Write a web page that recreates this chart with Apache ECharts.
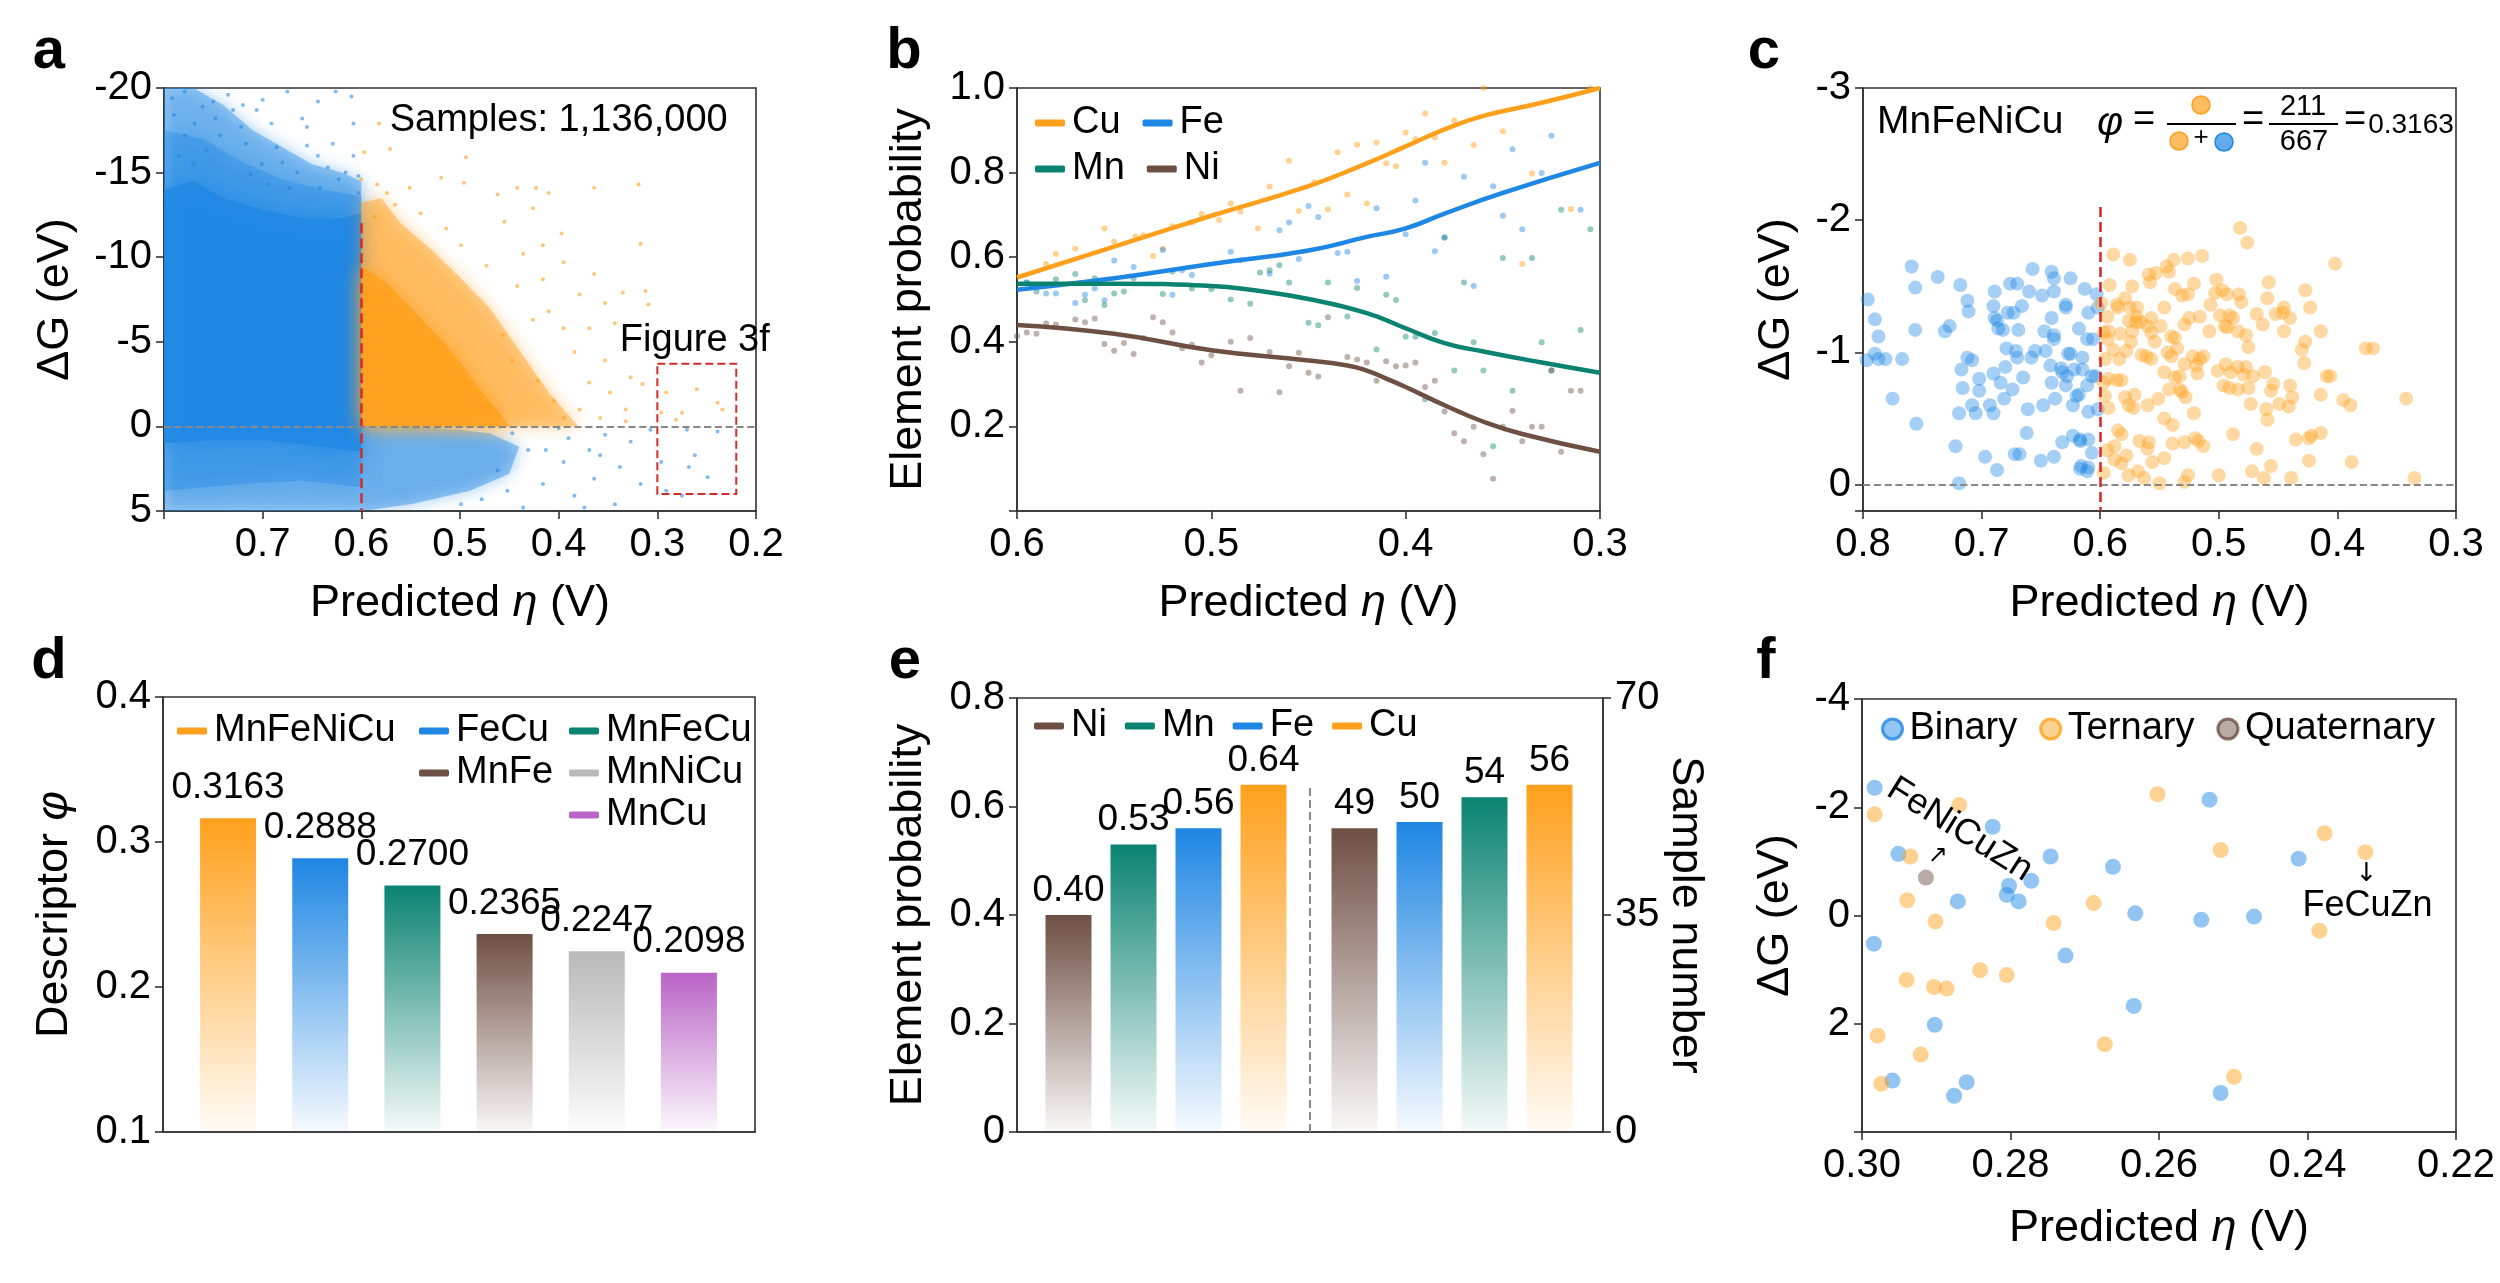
<!DOCTYPE html>
<html>
<head>
<meta charset="utf-8">
<script src="https://cdn.jsdelivr.net/npm/echarts@6/dist/echarts.min.js"></script>
<style>
html, body { margin: 0; padding: 0; background: #fff; }
#chart { width: 2500px; height: 1283px; }
</style>
</head>
<body>
<div id="chart"></div>
<script>
// ---------- data ----------

// a: dense clouds (envelopes) and the sparse points around them
const aBlueHalo = [[0.8,-20],[0.77,-20],[0.74,-19],[0.71,-17.5],[0.68,-16.5],[0.65,-15.5],[0.62,-15],[0.6,-14.5],[0.6,5],[0.8,5]];
const aBlueMid = [[0.8,-17.5],[0.76,-17],[0.72,-15.6],[0.68,-14.6],[0.64,-14],[0.6,-13.6],[0.6,3.6],[0.66,3.2],[0.72,3.4],[0.8,3.8]];
const aBlueCore = [[0.8,-14],[0.77,-14.5],[0.74,-13.5],[0.7,-12.8],[0.66,-12.3],[0.62,-12.3],[0.6,-12.6],[0.6,1.5],[0.64,1.2],[0.7,0.8],[0.75,0.8],[0.8,1.0]];
const aBlueRight = [[0.6,0],[0.55,0],[0.5,0.2],[0.47,0.4],[0.44,1.2],[0.45,2.8],[0.49,3.8],[0.55,4.6],[0.6,5]];
const aOrangeHalo = [[0.6,-13.2],[0.58,-13.5],[0.56,-12],[0.53,-10.5],[0.5,-8.8],[0.47,-7],[0.44,-4.5],[0.41,-2],[0.38,0],[0.6,0]];
const aOrangeCore = [[0.6,-9.5],[0.575,-8.5],[0.55,-7],[0.52,-5.2],[0.5,-3.8],[0.48,-2.2],[0.46,-0.8],[0.45,0],[0.6,0]];
const aBlueTop = [[0.792,-19.4],[0.779,-19.8],[0.761,-18.9],[0.748,-18.2],[0.735,-19.6],[0.722,-17.7],[0.706,-18.7],[0.691,-17.9],[0.675,-19.8],[0.66,-18.2],[0.644,-19.2],[0.626,-19.8],[0.61,-19.5],[0.608,-17.9],[0.629,-16.7],[0.644,-16.0],[0.655,-16.6],[0.665,-15.0],[0.608,-16.0],[0.603,-14.8],[0.623,-14.6],[0.634,-15.3],[0.686,-16.5],[0.701,-15.5],[0.717,-16.7],[0.73,-18.7],[0.769,-17.9],[0.79,-18.4],[0.779,-17.2],[0.743,-17.2],[0.655,-17.7],[0.616,-15.0],[0.642,-14.1],[0.603,-13.8],[0.673,-14.1],[0.785,-16.0],[0.77,-15.5],[0.757,-16.3],[0.712,-14.9],[0.695,-14.3],[0.68,-15.6],[0.75,-19.2],[0.7,-19.3],[0.72,-19.0]];
const aBlueLow = [[0.447,0.4],[0.431,1.4],[0.416,3.4],[0.4,0.1],[0.395,2.1],[0.384,4.1],[0.369,1.4],[0.364,3.1],[0.353,0.5],[0.343,4.6],[0.338,2.4],[0.327,0.9],[0.317,3.4],[0.307,0.2],[0.296,2.1],[0.291,3.8],[0.27,0.2],[0.262,1.7],[0.268,2.4],[0.249,3.0],[0.239,0.3],[0.275,4.1],[0.462,2.6],[0.452,3.8],[0.436,4.8],[0.413,1.4],[0.374,4.8],[0.358,1.7],[0.478,4.3],[0.499,4.6],[0.39,0.7]];
const aOrange = [[0.582,-17.9],[0.597,-16.2],[0.571,-16.4],[0.6,-14.6],[0.584,-14.3],[0.551,-14.1],[0.519,-14.7],[0.496,-14.4],[0.494,-15.9],[0.462,-13.7],[0.442,-14.1],[0.423,-14.1],[0.41,-13.8],[0.364,-14.1],[0.319,-14.3],[0.317,-10.8],[0.397,-11.4],[0.426,-12.9],[0.455,-12.1],[0.436,-10.2],[0.416,-10.7],[0.395,-9.7],[0.379,-7.8],[0.364,-9.0],[0.353,-7.3],[0.335,-7.9],[0.312,-8.0],[0.309,-7.2],[0.343,-6.1],[0.369,-5.8],[0.395,-5.8],[0.41,-6.8],[0.426,-6.3],[0.442,-8.3],[0.384,-4.4],[0.353,-3.9],[0.327,-2.9],[0.315,-2.5],[0.291,-2.0],[0.26,-2.2],[0.239,-1.4],[0.234,-1.0],[0.281,-0.4],[0.296,-0.8],[0.348,-2.0],[0.369,-2.6],[0.379,-1.0],[0.358,-0.5],[0.332,-1.0],[0.395,-0.5],[0.405,-1.5],[0.421,-2.7],[0.447,-3.9],[0.457,-5.4],[0.473,-9.5],[0.499,-10.7],[0.514,-11.7],[0.54,-12.6],[0.566,-13.1],[0.587,-12.4],[0.574,-13.8],[0.416,-8.7],[0.332,-0.3],[0.275,-0.8]];
const aSplit = [[0.6,-12],[0.6,5]];
const aBox = [[0.3,-3.7],[0.22,4.0]];

// b: smoothed trends and the binned points
const bCuLine = [[0.6,0.552],[0.55,0.625],[0.5,0.698],[0.45,0.768],[0.42,0.822],[0.4,0.862],[0.38,0.902],[0.36,0.934],[0.33,0.965],[0.3,1.0]];
const bFeLine = [[0.6,0.523],[0.55,0.55],[0.5,0.584],[0.45,0.616],[0.42,0.648],[0.4,0.668],[0.38,0.703],[0.35,0.752],[0.3,0.823]];
const bMnLine = [[0.6,0.537],[0.55,0.537],[0.5,0.532],[0.48,0.523],[0.45,0.501],[0.42,0.468],[0.4,0.432],[0.38,0.397],[0.36,0.377],[0.33,0.351],[0.3,0.327]];
const bNiLine = [[0.6,0.44],[0.55,0.419],[0.5,0.38],[0.45,0.356],[0.43,0.344],[0.42,0.332],[0.41,0.313],[0.4,0.293],[0.38,0.25],[0.36,0.211],[0.34,0.182],[0.3,0.14]];
const bCuDots = [[0.585,0.584],[0.58,0.608],[0.57,0.62],[0.555,0.668],[0.55,0.637],[0.539,0.649],[0.535,0.652],[0.53,0.603],[0.525,0.62],[0.52,0.673],[0.51,0.682],[0.505,0.702],[0.496,0.688],[0.49,0.727],[0.485,0.708],[0.476,0.668],[0.47,0.767],[0.46,0.828],[0.455,0.709],[0.447,0.777],[0.44,0.713],[0.435,0.848],[0.43,0.748],[0.425,0.866],[0.42,0.727],[0.415,0.871],[0.41,0.822],[0.405,0.815],[0.4,0.895],[0.395,0.879],[0.39,0.94],[0.385,0.883],[0.38,0.823],[0.375,0.924],[0.365,0.865],[0.36,1.0],[0.35,0.898],[0.34,0.584],[0.335,0.798],[0.315,0.714],[0.305,1.0]];
const bFeDots = [[0.595,0.54],[0.585,0.514],[0.58,0.514],[0.57,0.492],[0.565,0.511],[0.56,0.526],[0.555,0.498],[0.55,0.592],[0.54,0.577],[0.525,0.617],[0.52,0.511],[0.515,0.569],[0.51,0.558],[0.49,0.613],[0.485,0.593],[0.47,0.561],[0.465,0.664],[0.46,0.682],[0.455,0.596],[0.45,0.721],[0.445,0.695],[0.435,0.61],[0.43,0.613],[0.425,0.544],[0.415,0.716],[0.41,0.554],[0.4,0.654],[0.395,0.734],[0.39,0.823],[0.385,0.614],[0.38,0.647],[0.37,0.79],[0.365,0.532],[0.355,0.768],[0.35,0.698],[0.345,0.855],[0.34,0.666],[0.33,0.799],[0.325,0.887],[0.31,0.712]];
const bMnDots = [[0.595,0.54],[0.59,0.519],[0.58,0.548],[0.57,0.56],[0.565,0.498],[0.56,0.55],[0.555,0.487],[0.55,0.514],[0.545,0.519],[0.54,0.55],[0.525,0.513],[0.52,0.566],[0.51,0.526],[0.5,0.524],[0.49,0.5],[0.48,0.49],[0.475,0.564],[0.47,0.569],[0.465,0.581],[0.46,0.54],[0.45,0.445],[0.445,0.439],[0.44,0.54],[0.43,0.46],[0.425,0.527],[0.415,0.382],[0.41,0.511],[0.405,0.499],[0.4,0.412],[0.395,0.412],[0.39,0.264],[0.385,0.421],[0.38,0.646],[0.375,0.332],[0.37,0.54],[0.365,0.399],[0.36,0.332],[0.355,0.153],[0.35,0.598],[0.345,0.284],[0.335,0.598],[0.33,0.399],[0.325,0.332],[0.32,0.712],[0.31,0.428],[0.305,0.666]];
const bNiDots = [[0.6,0.414],[0.595,0.422],[0.59,0.419],[0.585,0.443],[0.58,0.441],[0.57,0.453],[0.565,0.446],[0.56,0.455],[0.555,0.395],[0.55,0.379],[0.545,0.397],[0.54,0.371],[0.535,0.409],[0.53,0.458],[0.525,0.446],[0.52,0.422],[0.515,0.385],[0.51,0.393],[0.505,0.351],[0.5,0.368],[0.49,0.4],[0.485,0.284],[0.48,0.409],[0.47,0.376],[0.465,0.281],[0.46,0.342],[0.455,0.374],[0.45,0.327],[0.445,0.318],[0.44,0.458],[0.43,0.364],[0.425,0.358],[0.42,0.351],[0.415,0.308],[0.41,0.354],[0.405,0.342],[0.4,0.344],[0.395,0.351],[0.39,0.293],[0.385,0.308],[0.38,0.235],[0.375,0.184],[0.37,0.165],[0.365,0.199],[0.36,0.134],[0.355,0.076],[0.35,0.199],[0.345,0.237],[0.34,0.165],[0.335,0.199],[0.33,0.199],[0.325,0.332],[0.32,0.14],[0.315,0.284],[0.31,0.284]];

// c: MnFeNiCu samples
const cBlue = [[0.796,-1.40],[0.790,-1.25],[0.787,-1.12],[0.790,-0.99],[0.787,-0.95],[0.781,-0.95],[0.797,-0.94],[0.767,-0.95],[0.775,-0.65],[0.759,-1.65],[0.756,-1.49],[0.756,-1.17],[0.755,-0.46],[0.737,-1.57],[0.731,-1.16],[0.727,-1.20],[0.718,-1.51],[0.712,-1.39],[0.711,-1.31],[0.712,-0.96],[0.708,-0.94],[0.717,-0.87],[0.716,-0.73],[0.702,-0.80],[0.702,-0.71],[0.708,-0.60],[0.719,-0.54],[0.705,-0.54],[0.697,-0.21],[0.719,-0.01],[0.722,-0.29],[0.687,-0.11],[0.689,-1.46],[0.690,-1.35],[0.689,-1.26],[0.682,-1.17],[0.687,-1.24],[0.686,-1.18],[0.676,-1.52],[0.670,-1.52],[0.678,-1.30],[0.673,-1.30],[0.666,-1.35],[0.669,-1.17],[0.679,-1.03],[0.671,-1.01],[0.670,-0.96],[0.680,-0.89],[0.690,-0.84],[0.684,-0.77],[0.681,-0.65],[0.674,-0.72],[0.693,-0.60],[0.690,-0.54],[0.665,-0.81],[0.662,-0.39],[0.668,-0.23],[0.672,-0.23],[0.650,-0.18],[0.639,-0.21],[0.632,-0.32],[0.657,-1.63],[0.660,-1.46],[0.649,-1.43],[0.641,-1.61],[0.639,-1.56],[0.639,-1.46],[0.625,-1.56],[0.613,-1.48],[0.603,-1.44],[0.602,-1.34],[0.610,-1.30],[0.629,-1.36],[0.629,-1.34],[0.641,-1.26],[0.639,-1.13],[0.647,-1.16],[0.639,-1.10],[0.618,-1.18],[0.606,-1.10],[0.611,-1.10],[0.655,-1.01],[0.646,-1.01],[0.627,-0.99],[0.625,-0.99],[0.615,-0.96],[0.658,-0.96],[0.642,-0.90],[0.633,-0.88],[0.632,-0.85],[0.628,-0.82],[0.622,-0.87],[0.615,-0.87],[0.604,-0.82],[0.607,-0.82],[0.641,-0.77],[0.629,-0.75],[0.611,-0.75],[0.648,-0.60],[0.638,-0.65],[0.623,-0.60],[0.620,-0.67],[0.618,-0.68],[0.610,-0.55],[0.623,-0.37],[0.617,-0.33],[0.617,-0.34],[0.610,-0.34],[0.607,-0.24],[0.616,-0.14],[0.610,-0.13],[0.611,-0.10],[0.602,-0.57],[0.661,-0.57],[0.617,-0.12]];
const cOrange = [[0.589,-1.74],[0.575,-1.70],[0.592,-1.51],[0.573,-1.50],[0.579,-1.41],[0.585,-1.34],[0.575,-1.34],[0.569,-1.34],[0.559,-1.59],[0.558,-1.53],[0.553,-1.60],[0.544,-1.65],[0.542,-1.61],[0.538,-1.70],[0.526,-1.71],[0.514,-1.73],[0.482,-1.94],[0.476,-1.83],[0.502,-1.55],[0.521,-1.52],[0.531,-1.43],[0.526,-1.44],[0.537,-1.48],[0.546,-1.34],[0.557,-1.26],[0.569,-1.27],[0.570,-1.23],[0.576,-1.24],[0.586,-1.36],[0.594,-1.27],[0.599,-1.37],[0.597,-1.15],[0.593,-1.16],[0.583,-1.14],[0.573,-1.16],[0.566,-1.23],[0.560,-1.20],[0.557,-1.15],[0.549,-1.20],[0.540,-1.12],[0.537,-1.11],[0.529,-1.21],[0.525,-1.26],[0.516,-1.27],[0.508,-1.16],[0.507,-1.36],[0.503,-1.45],[0.497,-1.47],[0.493,-1.44],[0.483,-1.44],[0.481,-1.38],[0.491,-1.28],[0.499,-1.28],[0.495,-1.20],[0.493,-1.19],[0.488,-1.26],[0.484,-1.16],[0.477,-1.13],[0.468,-1.29],[0.458,-1.53],[0.459,-1.41],[0.463,-1.21],[0.452,-1.29],[0.445,-1.34],[0.446,-1.30],[0.440,-1.26],[0.445,-1.16],[0.427,-1.47],[0.423,-1.34],[0.414,-1.16],[0.427,-1.08],[0.430,-1.02],[0.428,-0.92],[0.370,-1.03],[0.409,-0.82],[0.406,-0.82],[0.594,-1.10],[0.596,-0.95],[0.589,-1.02],[0.584,-0.95],[0.578,-1.01],[0.574,-1.08],[0.565,-0.98],[0.561,-0.97],[0.557,-0.95],[0.554,-1.08],[0.543,-1.00],[0.540,-0.97],[0.535,-1.03],[0.529,-0.91],[0.522,-0.97],[0.516,-0.95],[0.513,-0.97],[0.519,-0.90],[0.533,-0.82],[0.546,-0.85],[0.537,-0.81],[0.518,-0.84],[0.494,-0.91],[0.501,-0.86],[0.490,-0.85],[0.484,-0.89],[0.477,-0.89],[0.479,-0.83],[0.471,-0.82],[0.461,-0.85],[0.496,-0.75],[0.491,-0.73],[0.484,-0.72],[0.475,-0.73],[0.454,-0.76],[0.456,-0.71],[0.440,-0.75],[0.449,-0.61],[0.441,-0.59],[0.438,-0.66],[0.414,-0.68],[0.395,-0.64],[0.389,-0.60],[0.342,-0.65],[0.473,-0.61],[0.460,-0.57],[0.459,-0.49],[0.597,-0.77],[0.593,-0.80],[0.586,-0.79],[0.582,-0.79],[0.596,-0.67],[0.593,-0.58],[0.579,-0.66],[0.576,-0.60],[0.572,-0.58],[0.571,-0.68],[0.560,-0.60],[0.551,-0.65],[0.542,-0.72],[0.533,-0.72],[0.531,-0.70],[0.528,-0.66],[0.521,-0.54],[0.546,-0.50],[0.539,-0.45],[0.529,-0.32],[0.520,-0.35],[0.517,-0.33],[0.513,-0.29],[0.488,-0.38],[0.468,-0.27],[0.435,-0.34],[0.424,-0.35],[0.422,-0.37],[0.414,-0.39],[0.585,-0.41],[0.582,-0.38],[0.567,-0.33],[0.559,-0.32],[0.560,-0.27],[0.539,-0.31],[0.546,-0.20],[0.594,-0.26],[0.588,-0.29],[0.578,-0.22],[0.588,-0.19],[0.582,-0.16],[0.597,-0.09],[0.568,-0.10],[0.576,-0.07],[0.563,-0.05],[0.556,-0.17],[0.550,-0.01],[0.529,-0.02],[0.526,-0.07],[0.500,-0.07],[0.472,-0.10],[0.462,-0.05],[0.456,-0.14],[0.424,-0.18],[0.388,-0.17],[0.439,-0.05],[0.335,-0.05],[0.402,-1.67],[0.475,-1.04],[0.376,-1.03]];
const cSplit = [[0.6,-2.1],[0.6,0.2]];
const cCounts = { hit: 211, total: 667, phi: '0.3163' };

// d: descriptor per alloy family
const dNames = ['MnFeNiCu', 'FeCu', 'MnFeCu', 'MnFe', 'MnNiCu', 'MnCu'];
const dValues = [0.3163, 0.2888, 0.2700, 0.2365, 0.2247, 0.2098];

// e: element probability (left) and sample number (right)
const eProbCats = ['Ni', 'Mn', 'Fe', 'Cu'];
const eProb = [0.40, 0.53, 0.56, 0.64];
const eCountCats = ['Ni', 'Fe', 'Mn', 'Cu'];
const eCount = [49, 50, 54, 56];

// f: candidates in the Figure 3f window
const fBinary = [[0.2983,-2.36],[0.2951,-1.14],[0.2824,-1.64],[0.2746,-1.09],[0.2772,-0.64],[0.2802,-0.55],[0.2805,-0.38],[0.2789,-0.26],[0.2871,-0.26],[0.2662,-0.90],[0.2632,-0.04],[0.2984,0.52],[0.2726,0.74],[0.2543,0.08],[0.2472,0.02],[0.2412,-1.05],[0.2532,-2.14],[0.2634,1.67],[0.2902,2.02],[0.2959,3.05],[0.2859,3.08],[0.2876,3.33],[0.2517,3.28]];
const fTernary = [[0.2983,-1.87],[0.2869,-2.04],[0.2935,-1.09],[0.2602,-2.24],[0.2517,-1.21],[0.2377,-1.52],[0.2322,-1.17],[0.2939,-0.28],[0.2901,0.11],[0.2742,0.14],[0.2688,-0.23],[0.2384,0.28],[0.2841,1.01],[0.2805,1.10],[0.2940,1.19],[0.2903,1.32],[0.2886,1.35],[0.2979,2.22],[0.2921,2.57],[0.2673,2.38],[0.2974,3.11],[0.2499,2.98]];
const fQuaternary = [[0.2914,-0.70]];
const fFeNiCuZn = [0.2914, -0.70];
const fFeCuZn = [0.2322, -1.17];

// ---------- style ----------
const FONT = '"Liberation Sans", Arial, sans-serif';
const TICK = 40, NAME = 45, LEG = 38, LAB = 37;
const ORANGE = '#ffa01c', BLUE = '#1e86e3', GREEN = '#0a8370', BROWN = '#6e4f44', GREY = '#b9b9b9', PURPLE = '#b964c6';
const RED = '#d42a2a', AX = '#333';
const elColor = { Ni: BROWN, Mn: GREEN, Fe: BLUE, Cu: ORANGE };
const dColors = [ORANGE, BLUE, GREEN, BROWN, GREY, PURPLE];

function rgba(hex, a) {
  const n = parseInt(hex.slice(1), 16);
  return 'rgba(' + (n >> 16) + ',' + ((n >> 8) & 255) + ',' + (n & 255) + ',' + a + ')';
}
function fade(c) {
  return new echarts.graphic.LinearGradient(0, 0, 0, 1, [
    { offset: 0, color: c }, { offset: 1, color: rgba(c, 0.04) }
  ]);
}

const nameStyle = {
  color: '#000', fontSize: NAME, fontFamily: FONT,
  rich: { i: { fontStyle: 'italic', fontSize: NAME, fontFamily: FONT, color: '#000' } }
};
const lab = (extra) => Object.assign({ color: '#000', fontSize: TICK, fontFamily: FONT, margin: 12 }, extra);
function axis(o) {
  return Object.assign({
    type: 'value',
    splitLine: { show: false },
    axisLine: { show: true, onZero: false, lineStyle: { color: AX, width: 1.6 } },
    axisTick: { show: true, length: 8, lineStyle: { color: AX, width: 1.6 } },
    axisLabel: lab(),
    nameLocation: 'middle',
    nameTextStyle: nameStyle
  }, o);
}
const hidden = { show: false };
const fix1 = v => v.toFixed(1);

function grid(left, top, width, height, box) {
  return { left, top, width, height, show: !!box, borderColor: AX, borderWidth: 1.6, outerBoundsMode: 'none' };
}

function poly(xi, yi, pts, color, opacity, blur) {
  return {
    type: 'custom', xAxisIndex: xi, yAxisIndex: yi, silent: true, clip: true, z: 1,
    data: [pts[0]],
    renderItem: (params, api) => ({
      type: 'polygon',
      shape: { points: pts.map(p => api.coord(p)) },
      style: { fill: color, opacity, shadowBlur: blur || 16, shadowColor: color }
    })
  };
}
function dots(xi, yi, data, color, size, alpha, name) {
  return {
    type: 'scatter', name, xAxisIndex: xi, yAxisIndex: yi, data, symbolSize: size, z: 2,
    itemStyle: { color: rgba(color, alpha) }, silent: true
  };
}
function vline(seg, color, width) {
  return {
    silent: true, symbol: 'none', label: { show: false },
    lineStyle: { color, type: 'dashed', width },
    data: [[{ coord: seg[0] }, { coord: seg[1] }]]
  };
}
function trend(name, data, color) {
  return {
    type: 'line', name, xAxisIndex: 1, yAxisIndex: 1, data, smooth: 0.5, showSymbol: false, z: 3,
    lineStyle: { color, width: 4.5 }, itemStyle: { color }
  };
}

const legendBase = {
  selectedMode: false, icon: 'roundRect', itemWidth: 30, itemHeight: 7, itemGap: 22,
  textStyle: { fontSize: LEG, fontFamily: FONT, color: '#000', padding: [0, 0, 0, 2] }
};
const legText = (w) => Object.assign({}, legendBase.textStyle, { width: w });

const option = {
  animation: false,
  backgroundColor: '#fff',
  grid: [
    grid(164, 88, 592, 423, true),    // a
    grid(1017, 88, 583, 423, true),   // b
    grid(1863, 88, 593, 423, true),   // c
    grid(163, 697, 592, 435, true),   // d frame
    grid(182, 697, 553, 435, false),  // d bars
    grid(1017, 698, 586, 434, true),  // e frame
    grid(1036, 698, 260, 434, false), // e left bars
    grid(1322, 698, 260, 434, false), // e right bars
    grid(1862, 699, 594, 433, true)   // f
  ],
  xAxis: [
    axis({ gridIndex: 0, min: 0.2, max: 0.8, interval: 0.1, inverse: true, name: 'Predicted {i|η} (V)', nameGap: 70,
      axisLabel: lab({ margin: 14, formatter: v => (Math.abs(v - 0.8) < 1e-6 ? '' : fix1(v)) }) }),
    axis({ gridIndex: 1, min: 0.3, max: 0.6, interval: 0.1, inverse: true, name: 'Predicted {i|η} (V)', nameGap: 70,
      axisLabel: lab({ margin: 14, formatter: fix1 }) }),
    axis({ gridIndex: 2, min: 0.3, max: 0.8, interval: 0.1, inverse: true, name: 'Predicted {i|η} (V)', nameGap: 70,
      axisLabel: lab({ margin: 14, formatter: fix1 }) }),
    axis({ gridIndex: 3, min: 0, max: 1, axisTick: hidden, axisLabel: hidden }),
    { type: 'category', gridIndex: 4, data: dNames, show: false },
    axis({ gridIndex: 5, min: 0, max: 1, axisTick: hidden, axisLabel: hidden }),
    { type: 'category', gridIndex: 6, data: eProbCats, show: false },
    { type: 'category', gridIndex: 7, data: eCountCats, show: false },
    axis({ gridIndex: 8, min: 0.22, max: 0.30, interval: 0.02, inverse: true, name: 'Predicted {i|η} (V)', nameGap: 74,
      axisLabel: lab({ margin: 14, formatter: v => v.toFixed(2) }) })
  ],
  yAxis: [
    axis({ gridIndex: 0, min: -20, max: 5, interval: 5, inverse: true, name: 'ΔG (eV)', nameGap: 86 }),
    axis({ gridIndex: 1, min: 0, max: 1, interval: 0.2, name: 'Element probability', nameGap: 86,
      axisLabel: lab({ formatter: v => (v === 0 ? '' : fix1(v)) }) }),
    axis({ gridIndex: 2, min: -3, max: 0.2, interval: 1, inverse: true, name: 'ΔG (eV)', nameGap: 64,
      axisLabel: lab({ formatter: v => (Number.isInteger(v) ? String(v) : '') }) }),
    axis({ gridIndex: 3, min: 0.1, max: 0.4, interval: 0.1, name: 'Descriptor {i|φ}', nameGap: 86,
      axisLabel: lab({ formatter: fix1 }) }),
    { type: 'value', gridIndex: 4, min: 0.1, max: 0.4, startValue: 0.1, show: false, splitLine: hidden },
    axis({ gridIndex: 5, min: 0, max: 0.8, interval: 0.2, name: 'Element probability', nameGap: 86,
      axisLabel: lab({ formatter: v => (v === 0 ? '0' : fix1(v)) }) }),
    axis({ gridIndex: 5, position: 'right', min: 0, max: 70, interval: 35, name: 'Sample number', nameGap: 56, nameRotate: -90 }),
    { type: 'value', gridIndex: 6, min: 0, max: 0.8, show: false, splitLine: hidden },
    { type: 'value', gridIndex: 7, min: 0, max: 70, show: false, splitLine: hidden },
    axis({ gridIndex: 8, min: -4, max: 4, interval: 2, inverse: true, name: 'ΔG (eV)', nameGap: 64,
      axisLabel: lab({ formatter: v => (v === 4 ? '' : String(v)) }) })
  ],
  legend: [
    Object.assign({}, legendBase, { data: ['Cu', 'Fe'], left: 1030, top: 99, textStyle: legText(66) }),
    Object.assign({}, legendBase, { data: ['Mn', 'Ni'], left: 1030, top: 145, textStyle: legText(66) }),
    Object.assign({}, legendBase, { data: ['MnFeNiCu'], left: 172, top: 707 }),
    Object.assign({}, legendBase, { data: ['FeCu', 'MnFe'], left: 414, top: 707, orient: 'vertical', itemGap: 4 }),
    Object.assign({}, legendBase, { data: ['MnFeCu', 'MnNiCu', 'MnCu'], left: 564, top: 707, orient: 'vertical', itemGap: 4 }),
    Object.assign({}, legendBase, { data: ['Ni', 'Mn', 'Fe', 'Cu'], left: 1029, top: 702, itemGap: 18 }),
    Object.assign({}, legendBase, {
      left: 1876, top: 705, icon: 'circle', itemWidth: 20, itemHeight: 20, itemGap: 22,
      data: [
        { name: 'Binary', itemStyle: { borderColor: BLUE, borderWidth: 3 } },
        { name: 'Ternary', itemStyle: { borderColor: ORANGE, borderWidth: 3 } },
        { name: 'Quaternary', itemStyle: { borderColor: BROWN, borderWidth: 3 } }
      ]
    })
  ],
  series: [
    // a
    poly(0, 0, aBlueHalo, BLUE, 0.4),
    poly(0, 0, aBlueMid, BLUE, 0.35, 24),
    poly(0, 0, aBlueRight, BLUE, 0.42),
    poly(0, 0, aBlueCore, BLUE, 0.72, 22),
    poly(0, 0, aOrangeHalo, ORANGE, 0.45),
    poly(0, 0, aOrangeCore, ORANGE, 0.8, 20),
    dots(0, 0, aBlueTop, BLUE, 4, 0.7),
    dots(0, 0, aBlueLow, BLUE, 4, 0.7),
    Object.assign(dots(0, 0, aOrange, ORANGE, 4, 0.75), {
      markLine: vline(aSplit, RED, 2.5),
      markArea: {
        silent: true,
        itemStyle: { color: 'rgba(0,0,0,0)', borderColor: RED, borderWidth: 2, borderType: 'dashed' },
        data: [[{ coord: aBox[0] }, { coord: aBox[1] }]]
      }
    }),
    { type: 'line', xAxisIndex: 0, yAxisIndex: 0, data: [], z: 5,
      markLine: vline([[0.8, 0], [0.2, 0]], '#888', 1.8) },
    // b
    dots(1, 1, bCuDots, ORANGE, 6, 0.6),
    dots(1, 1, bFeDots, BLUE, 6, 0.55),
    dots(1, 1, bMnDots, GREEN, 6, 0.55),
    dots(1, 1, bNiDots, BROWN, 6, 0.55),
    trend('Cu', bCuLine, ORANGE),
    trend('Fe', bFeLine, BLUE),
    trend('Mn', bMnLine, GREEN),
    trend('Ni', bNiLine, BROWN),
    // c
    Object.assign(dots(2, 2, cBlue, BLUE, 14, 0.5), { markLine: vline([[0.8, 0], [0.3, 0]], '#888', 1.8) }),
    Object.assign(dots(2, 2, cOrange, ORANGE, 14, 0.5), { markLine: vline(cSplit, RED, 2.5) }),
    // d
    {
      type: 'bar', xAxisIndex: 4, yAxisIndex: 4, barWidth: 56, clip: true,
      data: dValues.map((v, i) => ({ value: v, itemStyle: { color: fade(dColors[i]) } })),
      label: { show: true, position: 'top', distance: 12, color: '#000', fontSize: LAB, fontFamily: FONT, formatter: p => dValues[p.dataIndex].toFixed(4) }
    },
    ...dNames.map((n, i) => ({ type: 'line', name: n, xAxisIndex: 4, yAxisIndex: 4, data: [], itemStyle: { color: dColors[i] }, lineStyle: { color: dColors[i] } })),
    // e
    {
      type: 'bar', xAxisIndex: 6, yAxisIndex: 7, barWidth: 46,
      data: eProb.map((v, i) => ({ value: v, itemStyle: { color: fade(elColor[eProbCats[i]]) } })),
      label: { show: true, position: 'top', distance: 6, color: '#000', fontSize: LAB, fontFamily: FONT, formatter: p => eProb[p.dataIndex].toFixed(2) }
    },
    {
      type: 'bar', xAxisIndex: 7, yAxisIndex: 8, barWidth: 46,
      data: eCount.map((v, i) => ({ value: v, itemStyle: { color: fade(elColor[eCountCats[i]]) } })),
      label: { show: true, position: 'top', distance: 6, color: '#000', fontSize: LAB, fontFamily: FONT }
    },
    { type: 'line', xAxisIndex: 5, yAxisIndex: 5, data: [],
      markLine: vline([[0.5, 0], [0.5, 0.64]], '#888', 2) },
    // f
    dots(8, 9, fBinary, BLUE, 16, 0.6, 'Binary'),
    dots(8, 9, fTernary, ORANGE, 16, 0.6, 'Ternary'),
    dots(8, 9, fQuaternary, BROWN, 16, 0.6, 'Quaternary')
  ]
};

const chart = echarts.init(document.getElementById('chart'));
chart.setOption(option);

// ---------- annotations placed through the axes ----------
const px = (xi, yi, p) => chart.convertToPixel({ xAxisIndex: xi, yAxisIndex: yi }, p);
function txt(x, y, text, o) {
  return Object.assign({ type: 'text', x, y, silent: true, z: 50,
    style: Object.assign({ text, fill: '#000', fontSize: 36, fontFamily: FONT, align: 'center', verticalAlign: 'middle' }, (o && o.style) || {}) },
    o && o.rotation !== undefined ? { rotation: o.rotation } : {});
}
const letter = (x, y, s) => txt(x, y, s, { style: { fontSize: 58, fontWeight: 'bold' } });

const g = [];
g.push(letter(49, 52, 'a'), letter(904, 52, 'b'), letter(1764, 52, 'c'),
       letter(49, 662, 'd'), letter(905, 662, 'e'), letter(1766, 662, 'f'));

let p = px(0, 0, [0.4, -18.1]);
g.push(txt(p[0], p[1], 'Samples: 1,136,000', { style: { fontSize: 38 } }));
p = px(0, 0, [0.262, -5.1]);
g.push(txt(p[0], p[1], 'Figure 3f', { style: { fontSize: 38 } }));

// c: MnFeNiCu and the descriptor fraction
const c0 = px(2, 2, [0.8, -3]);
const cx = c0[0], cy = c0[1];
g.push(txt(cx + 14, cy + 34, 'MnFeNiCu', { style: { align: 'left', fontSize: 39 } }));
g.push(txt(cx + 247, cy + 36, 'φ', { style: { fontSize: 40, fontStyle: 'italic' } }));
g.push(txt(cx + 281, cy + 33, '=', { style: { fontSize: 38 } }));
g.push({ type: 'line', shape: { x1: cx + 304, y1: cy + 36, x2: cx + 373, y2: cy + 36 }, style: { stroke: '#000', lineWidth: 2.2 }, z: 50 });
g.push({ type: 'circle', shape: { cx: cx + 338, cy: cy + 17, r: 9 }, style: { fill: rgba(ORANGE, 0.7), stroke: ORANGE, lineWidth: 1.5 }, z: 50 });
g.push({ type: 'circle', shape: { cx: cx + 316, cy: cy + 53, r: 9 }, style: { fill: rgba(ORANGE, 0.7), stroke: ORANGE, lineWidth: 1.5 }, z: 50 });
g.push(txt(cx + 338, cy + 50, '+', { style: { fontSize: 26 } }));
g.push({ type: 'circle', shape: { cx: cx + 361, cy: cy + 54, r: 9 }, style: { fill: rgba(BLUE, 0.7), stroke: BLUE, lineWidth: 1.5 }, z: 50 });
g.push(txt(cx + 390, cy + 33, '=', { style: { fontSize: 38 } }));
g.push({ type: 'line', shape: { x1: cx + 406, y1: cy + 36, x2: cx + 475, y2: cy + 36 }, style: { stroke: '#000', lineWidth: 2.2 }, z: 50 });
g.push(txt(cx + 440, cy + 19, String(cCounts.hit), { style: { fontSize: 29 } }));
g.push(txt(cx + 441, cy + 54, String(cCounts.total), { style: { fontSize: 29 } }));
g.push(txt(cx + 492, cy + 33, '=', { style: { fontSize: 38 } }));
g.push(txt(cx + 548, cy + 37, cCounts.phi, { style: { fontSize: 28 } }));

// f: labelled candidates
p = px(8, 9, fFeNiCuZn);
g.push(txt(p[0] + 34, p[1] - 48, 'FeNiCuZn', { rotation: -0.56, style: { fontSize: 36 } }));
g.push(txt(p[0] + 12, p[1] - 22, '↗', { style: { fontSize: 24, fontFamily: 'DejaVu Sans' } }));
p = px(8, 9, fFeCuZn);
g.push(txt(p[0] + 1, p[1] + 22, '↓', { style: { fontSize: 26, fontFamily: 'DejaVu Sans' } }));
g.push(txt(p[0] + 2, p[1] + 54, 'FeCuZn', { style: { fontSize: 36 } }));

chart.setOption({ graphic: g });
</script>
</body>
</html>
